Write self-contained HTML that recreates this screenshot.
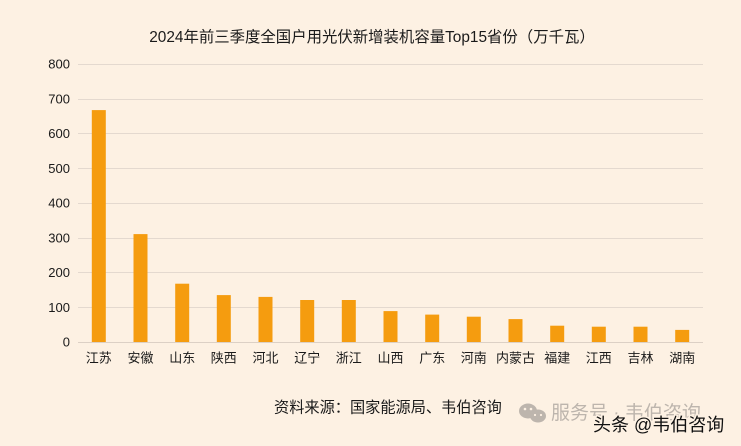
<!DOCTYPE html>
<html><head><meta charset="utf-8"><style>
html,body{margin:0;padding:0;background:#fdf1e3;}
svg{display:block;}
text{font-family:"Liberation Sans","Noto Sans CJK SC",sans-serif;}
</style></head><body>
<svg width="741" height="446" viewBox="0 0 741 446" xmlns="http://www.w3.org/2000/svg">
<rect width="741" height="446" fill="#fdf1e3"/>
<text x="372" y="42" font-size="15.4" text-anchor="middle" fill="#1a1a1a">2024年前三季度全国户用光伏新增装机容量Top15省份（万千瓦）</text>
<g stroke="#e4d9cf" stroke-width="1">
<line x1="78" y1="64.5" x2="703" y2="64.5"/>
<line x1="78" y1="99.5" x2="703" y2="99.5"/>
<line x1="78" y1="133.5" x2="703" y2="133.5"/>
<line x1="78" y1="168.5" x2="703" y2="168.5"/>
<line x1="78" y1="203.5" x2="703" y2="203.5"/>
<line x1="78" y1="238.5" x2="703" y2="238.5"/>
<line x1="78" y1="272.5" x2="703" y2="272.5"/>
<line x1="78" y1="307.5" x2="703" y2="307.5"/>
</g>
<g font-size="13" fill="#1a1a1a" text-anchor="end">
<text x="70" y="68.5">800</text>
<text x="70" y="103.5">700</text>
<text x="70" y="138">600</text>
<text x="70" y="173">500</text>
<text x="70" y="207.5">400</text>
<text x="70" y="242.5">300</text>
<text x="70" y="277">200</text>
<text x="70" y="312">100</text>
<text x="70" y="346.5">0</text>
</g>
<g fill="#f59c0f">
<rect x="91.8" y="110.1" width="14" height="231.9"/>
<rect x="133.5" y="234.1" width="14" height="107.9"/>
<rect x="175.2" y="283.7" width="14" height="58.3"/>
<rect x="216.8" y="295.1" width="14" height="46.9"/>
<rect x="258.5" y="296.9" width="14" height="45.1"/>
<rect x="300.2" y="300" width="14" height="42"/>
<rect x="341.8" y="300" width="14" height="42"/>
<rect x="383.5" y="311.1" width="14" height="30.9"/>
<rect x="425.2" y="314.6" width="14" height="27.4"/>
<rect x="466.8" y="316.7" width="14" height="25.3"/>
<rect x="508.5" y="319.1" width="14" height="22.9"/>
<rect x="550.2" y="325.7" width="14" height="16.3"/>
<rect x="591.8" y="326.7" width="14" height="15.3"/>
<rect x="633.5" y="326.7" width="14" height="15.3"/>
<rect x="675.2" y="329.9" width="14" height="12.1"/>
</g>
<line x1="78" y1="342.5" x2="703" y2="342.5" stroke="#dcd0c5" stroke-width="1"/>
<g font-size="13" fill="#1a1a1a" text-anchor="middle">
<text x="98.8" y="362.5">江苏</text>
<text x="140.5" y="362.5">安徽</text>
<text x="182.2" y="362.5">山东</text>
<text x="223.8" y="362.5">陕西</text>
<text x="265.5" y="362.5">河北</text>
<text x="307.2" y="362.5">辽宁</text>
<text x="348.8" y="362.5">浙江</text>
<text x="390.5" y="362.5">山西</text>
<text x="432.2" y="362.5">广东</text>
<text x="473.8" y="362.5">河南</text>
<text x="515.5" y="362.5">内蒙古</text>
<text x="557.2" y="362.5">福建</text>
<text x="598.8" y="362.5">江西</text>
<text x="640.5" y="362.5">吉林</text>
<text x="682.2" y="362.5">湖南</text>
</g>
<text x="274" y="412.5" font-size="15.2" fill="#1a1a1a">资料来源：国家能源局、韦伯咨询</text>
<!-- watermark -->
<g fill="#bdb5ad">
<ellipse cx="528" cy="411" rx="9" ry="7.5"/>
<ellipse cx="538" cy="416" rx="8" ry="6.5"/>
</g>
<g fill="#fdf1e3">
<circle cx="525" cy="409" r="1.3"/><circle cx="531" cy="409" r="1.3"/>
<circle cx="535" cy="415" r="1.1"/><circle cx="541" cy="415" r="1.1"/>
</g>
<text x="551" y="419" font-size="19" fill="#bdb5ad">服务号 · 韦伯咨询</text>
<text x="593" y="431" font-size="18" fill="#111" stroke="#fdf1e3" stroke-width="3" paint-order="stroke">头条 @韦伯咨询</text>
</svg>
</body></html>
